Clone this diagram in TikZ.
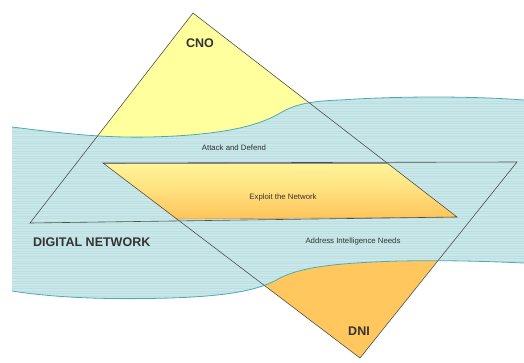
\documentclass[tikz,border=0pt]{standalone}
\usepackage{fontspec}
\setmainfont{Liberation Sans}
\definecolor{cnoyellow}{HTML}{FFFF9E}
\definecolor{dniorange}{HTML}{FFC75E}
\definecolor{water}{HTML}{CAE8EA}
\definecolor{waterline}{HTML}{BCDFE2}
\definecolor{waveedge}{HTML}{4FAAB0}
\definecolor{outline}{HTML}{505050}
\definecolor{plyellow}{HTML}{FFF59A}
\definecolor{plorange}{HTML}{FFC45A}
\tikzset{
  bigtxt/.style={font=\fontsize{12.5}{14}\selectfont\bfseries, text=black!80, inner sep=0pt},
  smalltxt/.style={font=\fontsize{7.8}{9}\selectfont, text=black!80, inner sep=0pt},
  tri/.style={draw=outline, line width=0.6pt, line join=miter},
  wave/.style={draw=waveedge, line width=0.8pt}
}
\begin{document}
\begin{tikzpicture}[x=1pt,y=-1pt]
\useasboundingbox (0,0) rectangle (524,362);
% filled triangles
\fill[cnoyellow] (193,13) -- (30,223) -- (457,217) -- cycle;
\fill[dniorange] (103,163) -- (517,162) -- (360,358) -- cycle;
% water band
\path[fill=water] (12,127) .. controls (60,133) and (100,138) .. (150,137)
  .. controls (230,135) and (262,124) .. (282,112)
  .. controls (296,104) and (312,101) .. (340,100)
  .. controls (400,96) and (470,96) .. (524,100)
  -- (524,263)
  .. controls (500,262) and (460,260) .. (400,261)
  .. controls (330,263) and (300,268) .. (280,278)
  .. controls (260,290) and (230,296) .. (170,298)
  .. controls (100,300) and (50,297) .. (12,291) -- cycle;
\begin{scope}
\clip (12,127) .. controls (60,133) and (100,138) .. (150,137)
  .. controls (230,135) and (262,124) .. (282,112)
  .. controls (296,104) and (312,101) .. (340,100)
  .. controls (400,96) and (470,96) .. (524,100)
  -- (524,263)
  .. controls (500,262) and (460,260) .. (400,261)
  .. controls (330,263) and (300,268) .. (280,278)
  .. controls (260,290) and (230,296) .. (170,298)
  .. controls (100,300) and (50,297) .. (12,291) -- cycle;
\foreach \yy in {96,98.5,...,302}{
  \draw[waterline, line width=0.45pt] (12,\yy) -- (524,\yy);
}
\end{scope}
% parallelogram
\shade[top color=plyellow, bottom color=plorange, middle color=plyellow!55!plorange]
  (103,163) -- (387,163) -- (457,217) -- (176,219) -- cycle;
\draw[black!45, line width=1pt] (103,163) -- (387,163);
\draw[plorange!80!black, line width=0.6pt] (176,219) -- (457,217);
% wave edges
\draw[wave] (12,127) .. controls (60,133) and (100,138) .. (150,137)
  .. controls (230,135) and (262,124) .. (282,112)
  .. controls (296,104) and (312,101) .. (340,100)
  .. controls (400,96) and (470,96) .. (524,100);
\draw[wave] (524,263)
  .. controls (500,262) and (460,260) .. (400,261)
  .. controls (330,263) and (300,268) .. (280,278)
  .. controls (260,290) and (230,296) .. (170,298)
  .. controls (100,300) and (50,297) .. (12,291);
% triangle outlines
\draw[tri] (193,13) -- (30,223) -- (457,217) -- cycle;
\draw[tri] (103,163) -- (517,162) -- (360,358) -- cycle;
% labels
\node[bigtxt] (cno) at (200,43) {CNO};
\node[smalltxt] (attack) at (234,148) {Attack and Defend};
\node[smalltxt] (exploit) at (283,197) {Exploit the Network};
\node[bigtxt, anchor=west] (dignet) at (33,242) {DIGITAL NETWORK};
\node[smalltxt] (address) at (353,241) {Address Intelligence Needs};
\node[bigtxt] (dni) at (359,331) {DNI};
\end{tikzpicture}
\end{document}
